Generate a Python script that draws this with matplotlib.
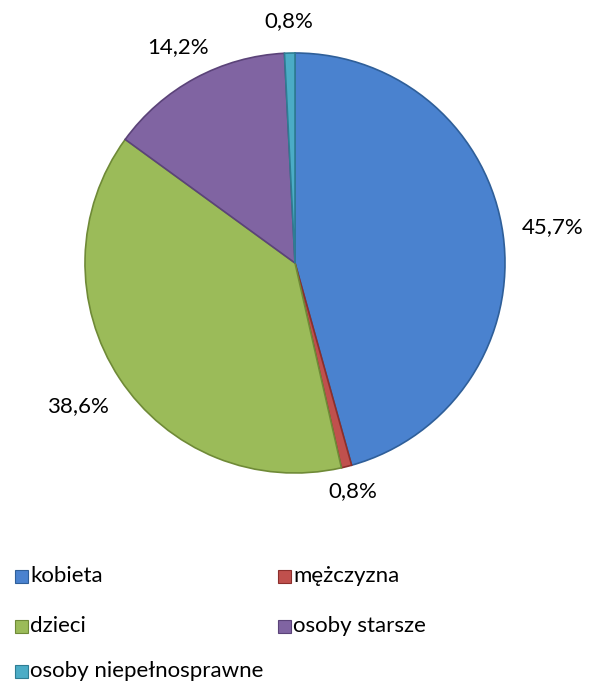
import matplotlib.pyplot as plt
import numpy as np

plt.rcParams['font.family'] = ['Lato', 'DejaVu Sans']

# data
categories = ['kobieta', 'mężczyzna', 'dzieci', 'osoby starsze', 'osoby niepełnosprawne']
shares = [45.7, 0.8, 38.6, 14.2, 0.8]
labels = ['45,7%', '0,8%', '38,6%', '14,2%', '0,8%']

colors = ['#4a82cf', '#c0504d', '#9bbb59', '#8064a2', '#4bacc6']
edges = ['#2f5f99', '#8c2f2c', '#6f8a37', '#5b4379', '#2e7d93']
label_dist = [1.24, 1.12, 1.24, 1.17, 1.15]

fig = plt.figure(figsize=(5.9, 6.84), dpi=100)
ax = fig.add_axes([85 / 590, (684 - 473) / 684, 420 / 590, 420 / 684])

wedges, _ = ax.pie(shares, colors=colors, startangle=90, counterclock=False,
                   radius=1.0, wedgeprops=dict(linewidth=1.2))
for w, ec in zip(wedges, edges):
    w.set_edgecolor(ec)

for w, lab, d in zip(wedges, labels, label_dist):
    ang = np.deg2rad((w.theta1 + w.theta2) / 2)
    ax.text(d * np.cos(ang), d * np.sin(ang), lab, ha='center', va='center',
            fontsize=16, color='#000000')

ax.set_xlim(-1, 1)
ax.set_ylim(-1, 1)
ax.set_aspect('auto')
ax.axis('off')

# legend
leg_pos = [(15, 576), (278, 576), (15, 626), (278, 626), (15, 671)]
for (px, py), name, c, ec in zip(leg_pos, categories, colors, edges):
    fig.patches.append(plt.Rectangle((px / 590, (684 - py - 7) / 684), 13 / 590, 13 / 684,
                                     transform=fig.transFigure, facecolor=c,
                                     edgecolor=ec, linewidth=0.8))
    fig.text((px + 15) / 590, (684 - py) / 684, name, ha='left', va='center',
             fontsize=16, color='#000000')

fig.savefig('out.png', dpi=100, facecolor='white')
